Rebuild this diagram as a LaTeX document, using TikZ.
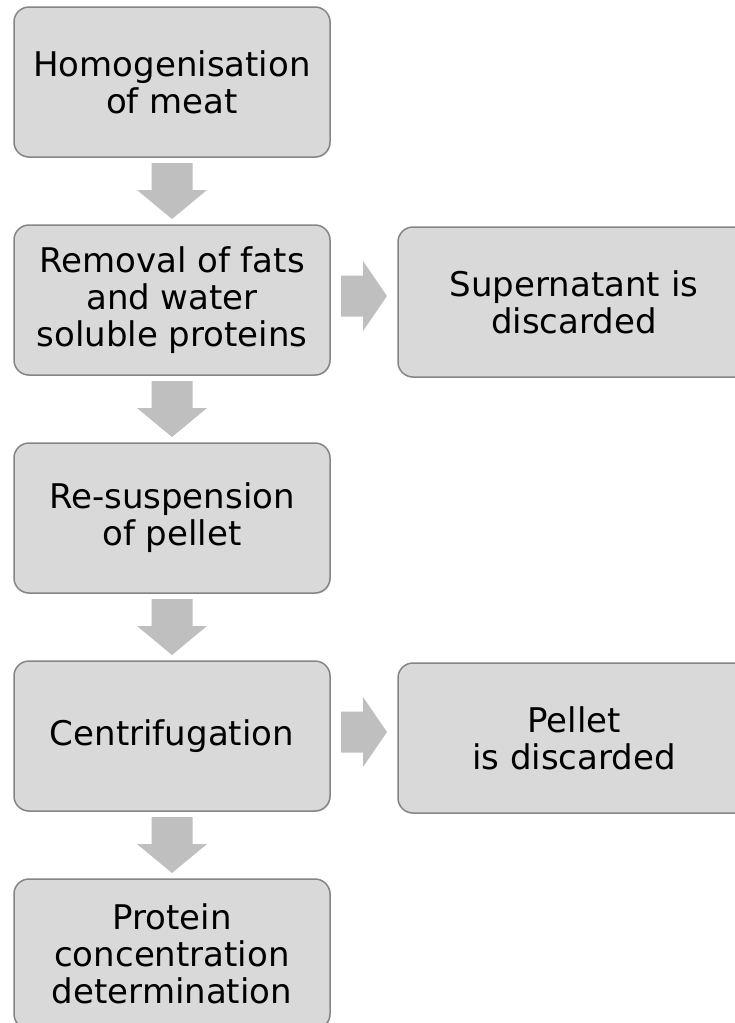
\documentclass[tikz,border=0pt]{standalone}
\usepackage{fontspec}
\setmainfont{DejaVu Sans}
\usetikzlibrary{positioning, calc, shadows}
\definecolor{boxfill}{HTML}{D9D9D9}
\definecolor{boxline}{HTML}{858585}
\definecolor{arrowfill}{HTML}{BFBFBF}
\tikzset{
  stepbox/.style={draw=boxline, line width=1.5pt, fill=boxfill, rounded corners=15pt,
    minimum width=316pt, minimum height=150pt, inner sep=0pt, outer sep=0pt, align=center,
    font=\fontsize{34pt}{37pt}\selectfont,
    drop shadow={shadow xshift=0.8pt, shadow yshift=-0.8pt, opacity=0.25}},
  sidebox/.style={stepbox, minimum width=352pt},
  downarrow/.pic={\fill[arrowfill] (-20.5pt,28pt) -- (20.5pt,28pt) -- (20.5pt,1pt) -- (35pt,1pt)
    -- (0pt,-28pt) -- (-35pt,1pt) -- (-20.5pt,1pt) -- cycle;},
  rightarrow/.pic={\fill[arrowfill] (-23pt,20.5pt) -- (-1pt,20.5pt) -- (-1pt,35pt) -- (23pt,0pt)
    -- (-1pt,-35pt) -- (-1pt,-20.5pt) -- (-23pt,-20.5pt) -- cycle;}
}
\begin{document}
\begin{tikzpicture}
    \useasboundingbox (0pt,0pt) rectangle (734pt,-1023pt);
    \node[stepbox] (homog) at (172pt,-82pt) {Homogenisation\\of meat};
    \node[stepbox, below=68pt of homog] (removal) {Removal of fats\\and water\\soluble proteins};
    \node[stepbox, below=68pt of removal] (resusp) {Re-suspension\\of pellet};
    \node[stepbox, below=68pt of resusp] (centri) {Centrifugation};
    \node[stepbox, below=68pt of centri] (protein) {Protein\\concentration\\determination};
    \node[sidebox, right=68pt of removal, yshift=-2pt] (superna) {Supernatant is\\discarded};
    \node[sidebox, right=68pt of centri, yshift=-2pt] (pellet) {Pellet\\is discarded};
    \pic at ($(homog.south)!0.5!(removal.north)$) {downarrow};
    \pic at ($(removal.south)!0.5!(resusp.north)$) {downarrow};
    \pic at ($(resusp.south)!0.5!(centri.north)$) {downarrow};
    \pic at ($(centri.south)!0.5!(protein.north)$) {downarrow};
    \pic at ($(removal.east)!0.5!(superna.west)+(0pt,5pt)$) {rightarrow};
    \pic at ($(centri.east)!0.5!(pellet.west)+(0pt,5pt)$) {rightarrow};
\end{tikzpicture}
\end{document}
